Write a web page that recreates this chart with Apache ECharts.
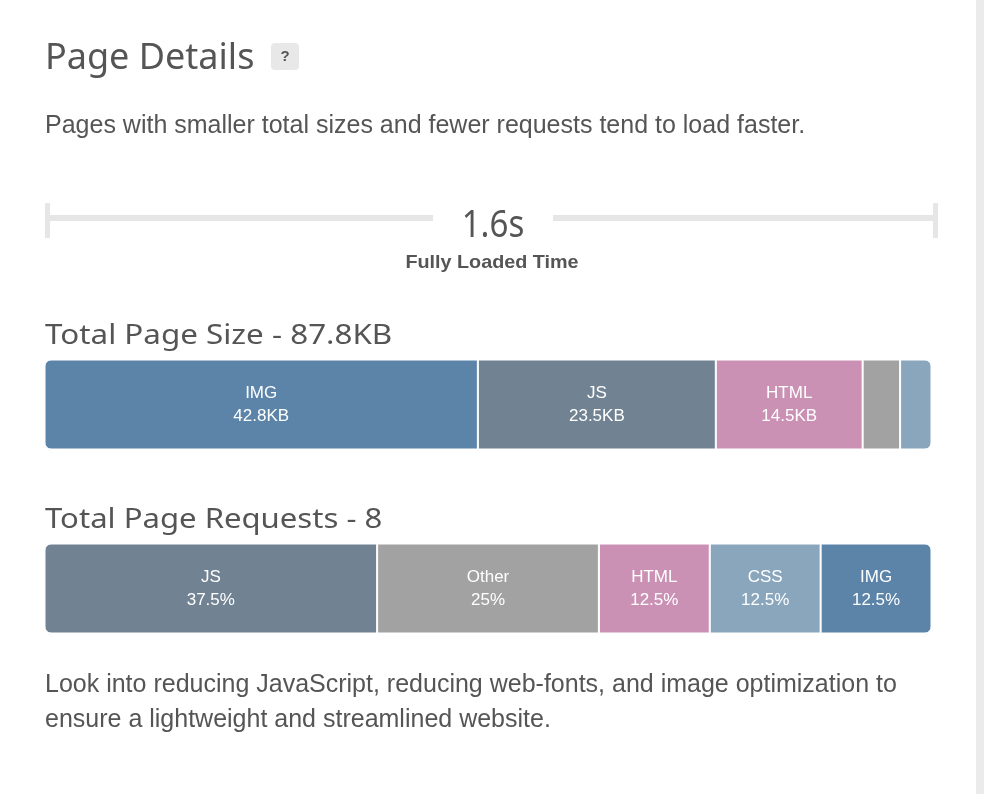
<!DOCTYPE html>
<html>
<head>
<meta charset="utf-8">
<script src="https://cdn.jsdelivr.net/npm/echarts@6/dist/echarts.min.js"></script>
<style>
html,body{margin:0;padding:0;background:#fff;}
#chart{width:984px;height:794px;}
</style>
</head>
<body>
<div id="chart"></div>
<script>
// ---- data ----
const title = 'Page Details';
const subtitle = 'Pages with smaller total sizes and fewer requests tend to load faster.';
const loadTime = '1.6s';
const loadLabel = 'Fully Loaded Time';
const sizeTitle = 'Total Page Size - 87.8KB';
const sizeCategories = ['IMG', 'JS', 'HTML', 'Other', 'CSS'];
const sizeValues = [42.8, 23.5, 14.5, 3.7, 3.1];
const sizeLabelShown = [true, true, true, false, false];
const reqTitle = 'Total Page Requests - 8';
const reqCategories = ['JS', 'Other', 'HTML', 'CSS', 'IMG'];
const reqValues = [37.5, 25, 12.5, 12.5, 12.5];
const footerLines = ['Look into reducing JavaScript, reducing web-fonts, and image optimization to', 'ensure a lightweight and streamlined website.'];

// ---- styles ----
const typeColors = { IMG: '#5b84a8', JS: '#718292', HTML: '#cb91b4', Other: '#a2a2a2', CSS: '#8aa6bc' };
const textColor = '#555555';
const headFont = '"Noto Sans", sans-serif';
const bodyFont = '"Liberation Sans", Arial, sans-serif';

function buildSeries(cats, vals, idx, unit, shown) {
  return cats.map((c, i) => {
    let radius = 0;
    if (i === 0) radius = [6, 0, 0, 6];
    if (i === cats.length - 1) radius = [0, 6, 6, 0];
    return {
      type: 'bar',
      name: c,
      stack: 'total' + idx,
      xAxisIndex: idx,
      yAxisIndex: idx,
      barWidth: '100%',
      data: [vals[i]],
      itemStyle: { color: typeColors[c], borderColor: '#ffffff', borderWidth: 1, borderRadius: radius },
      label: {
        show: shown ? shown[i] : true,
        position: 'inside',
        color: '#ffffff',
        fontFamily: bodyFont,
        fontSize: 17,
        lineHeight: 23,
        formatter: () => c + '\n' + vals[i] + unit
      },
      emphasis: { disabled: true },
      animation: false
    };
  });
}

const chart = echarts.init(document.getElementById('chart'));
const sizeSum = sizeValues.reduce((a, b) => a + b, 0);
const reqSum = reqValues.reduce((a, b) => a + b, 0);

chart.setOption({
  backgroundColor: '#ffffff',
  animation: false,
  grid: [
    { left: 44.5, width: 887, top: 359.5, height: 90 },
    { left: 44.5, width: 887, top: 543.5, height: 90 }
  ],
  xAxis: [
    { type: 'value', gridIndex: 0, min: 0, max: sizeSum, show: false },
    { type: 'value', gridIndex: 1, min: 0, max: reqSum, show: false }
  ],
  yAxis: [
    { type: 'category', gridIndex: 0, data: ['size'], show: false },
    { type: 'category', gridIndex: 1, data: ['requests'], show: false }
  ],
  series: [
    ...buildSeries(sizeCategories, sizeValues, 0, 'KB', sizeLabelShown),
    ...buildSeries(reqCategories, reqValues, 1, '%', null)
  ],
  graphic: [
    { type: 'rect', shape: { x: 976, y: 0, width: 8, height: 794 }, style: { fill: '#ebebeb' }, silent: true },
    { type: 'text', x: 45, y: 41, style: { text: title, fontFamily: headFont, fontSize: 36, fill: textColor } },
    { type: 'rect', shape: { x: 271, y: 43, width: 28, height: 27, r: 4 }, style: { fill: '#e8e8e8' } },
    { type: 'text', x: 285, y: 57, style: { text: '?', fontFamily: bodyFont, fontWeight: 'bold', fontSize: 15, fill: '#555', align: 'center', verticalAlign: 'middle' } },
    { type: 'text', x: 45, y: 114, style: { text: subtitle, fontFamily: bodyFont, fontSize: 25, fill: textColor } },
    // timeline
    { type: 'rect', shape: { x: 45, y: 215, width: 388, height: 6 }, style: { fill: '#e6e6e6' } },
    { type: 'rect', shape: { x: 553, y: 215, width: 385, height: 6 }, style: { fill: '#e6e6e6' } },
    { type: 'rect', shape: { x: 45, y: 203, width: 5, height: 35 }, style: { fill: '#e6e6e6' } },
    { type: 'rect', shape: { x: 933, y: 203, width: 5, height: 35 }, style: { fill: '#e6e6e6' } },
    { type: 'text', x: 493, y: 226, scaleX: 0.85, style: { text: loadTime, fontFamily: headFont, fontSize: 39, fill: textColor, align: 'center', verticalAlign: 'middle' } },
    { type: 'text', x: 492, y: 263, scaleX: 1.04, style: { text: loadLabel, fontFamily: bodyFont, fontWeight: 'bold', fontSize: 19, fill: textColor, align: 'center', verticalAlign: 'middle' } },
    { type: 'text', x: 45, y: 322, scaleX: 1.12, style: { text: sizeTitle, fontFamily: headFont, fontSize: 28, fill: textColor } },
    { type: 'text', x: 45, y: 506, scaleX: 1.11, style: { text: reqTitle, fontFamily: headFont, fontSize: 28, fill: textColor } },
    { type: 'text', x: 45, y: 668, style: { text: footerLines.join('\n'), fontFamily: bodyFont, fontSize: 25, lineHeight: 35, fill: textColor } }
  ]
});
</script>
</body>
</html>
